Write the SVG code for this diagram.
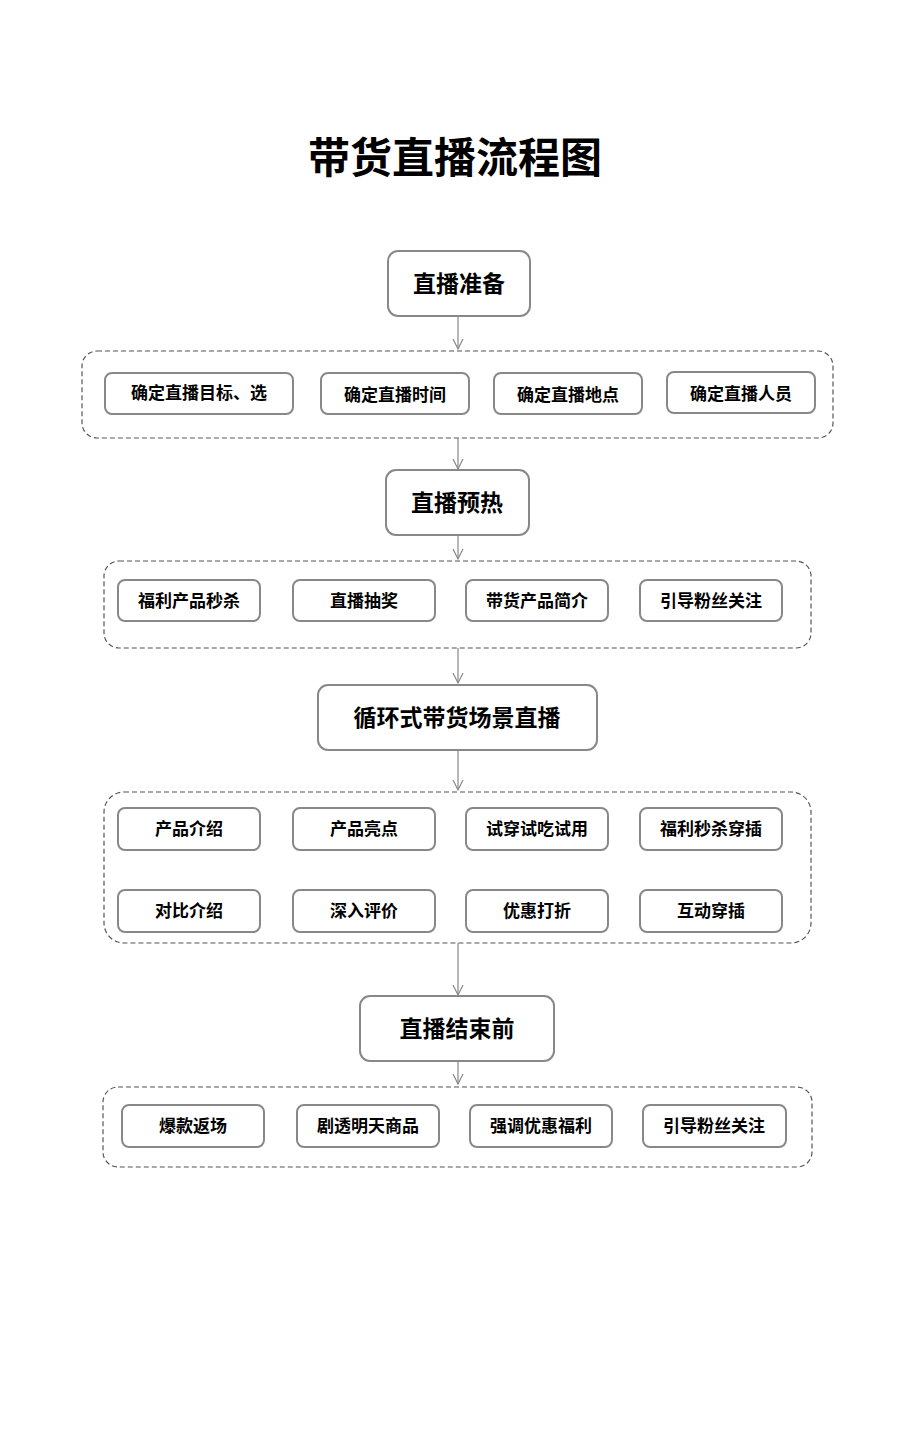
<svg xmlns="http://www.w3.org/2000/svg" width="909" height="1430" viewBox="0 0 909 1430">
<style>
text{font-family:"Liberation Sans","Noto Sans CJK SC",sans-serif;font-weight:bold;fill:#000;text-anchor:middle;dominant-baseline:central}
.main rect{fill:#fff;stroke:#888;stroke-width:2}
.main text{font-size:23px}
.item rect{fill:#fff;stroke:#888;stroke-width:2}
.item text{font-size:17px}
.grp{fill:none;stroke:#555;stroke-width:1.2;stroke-dasharray:5,3}
.con line{stroke:#888;stroke-width:1.2;marker-end:url(#a)}
</style>
<defs><marker id="a" markerUnits="userSpaceOnUse" markerWidth="12" markerHeight="12" refX="10" refY="6" orient="auto" viewBox="0 0 12 12"><path d="M0,1 L10,6 L0,11" fill="none" stroke="#888" stroke-width="1.2"/></marker></defs>
<rect width="909" height="1430" fill="#fff"/>
<text x="455" y="158" style="font-size:42px">带货直播流程图</text>
<rect class="grp" x="82" y="351" width="751" height="87" rx="15"/>
<rect class="grp" x="104" y="561" width="707" height="87" rx="15"/>
<rect class="grp" x="104" y="792" width="707" height="151" rx="20"/>
<rect class="grp" x="103" y="1087" width="709" height="80" rx="15"/>
<g class="con">
<line x1="458" y1="316" x2="458" y2="349"/>
<line x1="458" y1="438" x2="458" y2="469"/>
<line x1="458" y1="535" x2="458" y2="559"/>
<line x1="458" y1="648" x2="458" y2="683"/>
<line x1="458" y1="750" x2="458" y2="790"/>
<line x1="458" y1="943" x2="458" y2="995"/>
<line x1="458" y1="1061" x2="458" y2="1084"/>
</g>
<g id="n1" class="main"><rect x="388" y="251" width="142" height="65" rx="10"/><text x="459" y="284">直播准备</text></g>
<g id="n2" class="main"><rect x="386" y="470" width="143" height="65" rx="10"/><text x="457" y="503">直播预热</text></g>
<g id="n3" class="main"><rect x="318" y="685" width="279" height="65" rx="10"/><text x="457" y="718">循环式带货场景直播</text></g>
<g id="n4" class="main"><rect x="360" y="996" width="194" height="65" rx="10"/><text x="457" y="1029">直播结束前</text></g>
<g id="i1a" class="item"><rect x="105" y="373" width="188" height="41" rx="7"/><text x="199" y="393">确定直播目标、选</text></g>
<g id="i1b" class="item"><rect x="321" y="373" width="148" height="41" rx="7"/><text x="395" y="395">确定直播时间</text></g>
<g id="i1c" class="item"><rect x="494" y="373" width="148" height="41" rx="7"/><text x="568" y="395">确定直播地点</text></g>
<g id="i1d" class="item"><rect x="667" y="372" width="148" height="41" rx="7"/><text x="741" y="394">确定直播人员</text></g>
<g id="i2a" class="item"><rect x="118" y="580" width="142" height="41" rx="7"/><text x="189" y="601">福利产品秒杀</text></g>
<g id="i2b" class="item"><rect x="293" y="580" width="142" height="41" rx="7"/><text x="364" y="601">直播抽奖</text></g>
<g id="i2c" class="item"><rect x="466" y="580" width="142" height="41" rx="7"/><text x="537" y="601">带货产品简介</text></g>
<g id="i2d" class="item"><rect x="640" y="580" width="142" height="41" rx="7"/><text x="711" y="601">引导粉丝关注</text></g>
<g id="i3a" class="item"><rect x="118" y="808" width="142" height="42" rx="7"/><text x="189" y="829">产品介绍</text></g>
<g id="i3b" class="item"><rect x="293" y="808" width="142" height="42" rx="7"/><text x="364" y="829">产品亮点</text></g>
<g id="i3c" class="item"><rect x="466" y="808" width="142" height="42" rx="7"/><text x="537" y="829">试穿试吃试用</text></g>
<g id="i3d" class="item"><rect x="640" y="808" width="142" height="42" rx="7"/><text x="711" y="829">福利秒杀穿插</text></g>
<g id="i3e" class="item"><rect x="118" y="890" width="142" height="42" rx="7"/><text x="189" y="911">对比介绍</text></g>
<g id="i3f" class="item"><rect x="293" y="890" width="142" height="42" rx="7"/><text x="364" y="911">深入评价</text></g>
<g id="i3g" class="item"><rect x="466" y="890" width="142" height="42" rx="7"/><text x="537" y="911">优惠打折</text></g>
<g id="i3h" class="item"><rect x="640" y="890" width="142" height="42" rx="7"/><text x="711" y="911">互动穿插</text></g>
<g id="i4a" class="item"><rect x="122" y="1105" width="142" height="42" rx="7"/><text x="193" y="1126">爆款返场</text></g>
<g id="i4b" class="item"><rect x="297" y="1105" width="142" height="42" rx="7"/><text x="368" y="1126">剧透明天商品</text></g>
<g id="i4c" class="item"><rect x="470" y="1105" width="142" height="42" rx="7"/><text x="541" y="1126">强调优惠福利</text></g>
<g id="i4d" class="item"><rect x="643" y="1105" width="143" height="42" rx="7"/><text x="714" y="1126">引导粉丝关注</text></g>
</svg>
